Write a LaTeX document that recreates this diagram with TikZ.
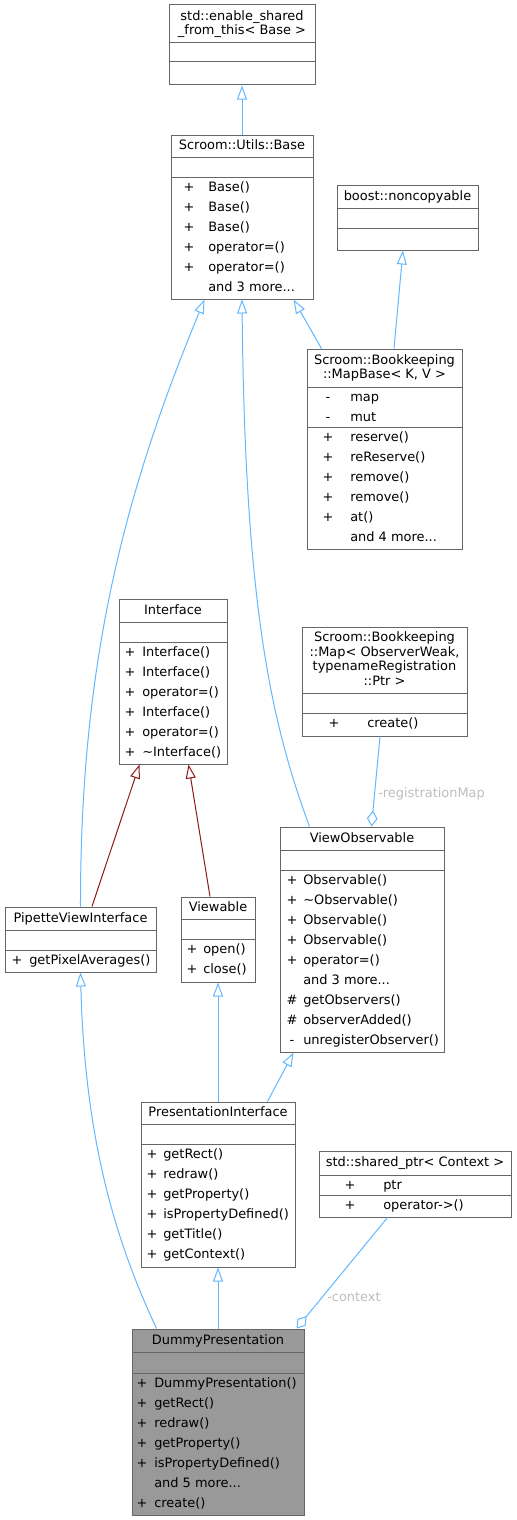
\documentclass[tikz,border=0pt]{standalone}
\usepackage{fontspec}
\setmainfont{DejaVu Sans}
\usetikzlibrary{arrows.meta, fit}
\definecolor{cEdge}{RGB}{99,184,255}
\definecolor{cPriv}{RGB}{139,26,26}
\definecolor{cBorder}{RGB}{102,102,102}
\definecolor{cLabel}{RGB}{190,190,190}
\definecolor{cCurrent}{RGB}{153,153,153}
\newcommand{\tstrut}{\rule[-2pt]{0pt}{9pt}}
\tikzset{
	cls/.style      ={rectangle, draw=cBorder, line width=0.75pt, inner sep=0pt},
	sepline/.style  ={draw=cBorder, line width=0.75pt},
	ctitle/.style   ={inner sep=0pt, align=center, font=\fontsize{9.7}{11}\selectfont},
	vis/.style      ={inner sep=0pt, anchor=north, align=center, font=\fontsize{9.7}{15}\selectfont},
	mem/.style      ={inner sep=0pt, anchor=north west, align=left, font=\fontsize{9.7}{15}\selectfont},
	% inheritance and usage arrows
	inherit/.style  ={draw=cEdge, line width=0.75pt, -{Triangle[open, length=10.5pt, width=7.5pt]}},
	inhpriv/.style  ={draw=cPriv, line width=0.75pt, -{Triangle[open, length=10.5pt, width=7.5pt]}},
	aggr/.style     ={draw=cEdge, line width=0.75pt, -{Diamond[open, length=12pt, width=8pt]}},
	rolelabel/.style={text=cLabel, inner sep=0pt, anchor=west, font=\fontsize{9.7}{11}\selectfont},
}
% class box: fill, name, left, top, right, bottom, first rule, second rule
\newcommand{\umlclass}[8][white]{%
	\node[cls, fill=#1, fit={(#3,#4) (#5,#6)}] (#2) {};
	\draw[sepline] (#3,#7) -- (#5,#7) (#3,#8) -- (#5,#8);
}

\begin{document}
\begin{tikzpicture}[x=0.75pt, y=-0.75pt]
	\path[use as bounding box, fill=white] (0,0) rectangle (517,1520);
	% std::enable_shared_from_this
	\umlclass{enableShared}{169}{5}{315}{85}{43}{62}
	\node[ctitle] (enableShared-title) at (242,24) {\tstrut std::enable\_shared\\\_from\_this< Base >\tstrut};
	% Scroom::Utils::Base
	\umlclass{base}{171}{135}{313}{299}{157}{177}
	\node[ctitle] (base-title) at (242,146) {\tstrut Scroom::Utils::Base};
	\node[vis] (base-vis) at (189,177) {\strut+\\+\\+\\+\\+};
	\node[mem] (base-ops) at (208,177) {\strut Base()\\Base()\\Base()\\operator=()\\operator=()\\and 3 more...};
	% boost::noncopyable
	\umlclass{noncopy}{337}{185}{478}{250}{208}{228}
	\node[ctitle] (noncopy-title) at (407.5,196.5) {\tstrut boost::noncopyable};
	% MapBase
	\umlclass{mapBase}{307}{349}{462}{549}{387}{427}
	\node[ctitle] (mapBase-title) at (384.5,368) {\tstrut Scroom::Bookkeeping\\::MapBase< K, V >\tstrut};
	\node[vis] (mapBase-avis) at (328,387) {\strut-\\-};
	\node[mem] (mapBase-attr) at (350,387) {\strut map\\mut};
	\node[vis] (mapBase-vis) at (328,427) {\strut+\\+\\+\\+\\+};
	\node[mem] (mapBase-ops) at (350,427) {\strut reserve()\\reReserve()\\remove()\\remove()\\at()\\and 4 more...};
	% Map
	\umlclass{obsMap}{302}{627}{467}{736}{693}{713}
	\node[ctitle] (obsMap-title) at (384.5,660) {\tstrut Scroom::Bookkeeping\\::Map< ObserverWeak,\\ typenameRegistration\\::Ptr >\tstrut};
	\node[vis] (obsMap-vis) at (334,713) {\strut+};
	\node[mem] (obsMap-ops) at (367,713) {\strut create()};
	% Interface
	\umlclass{iface}{119}{599}{227}{764}{622}{642}
	\node[ctitle] (iface-title) at (173,610.5) {\tstrut Interface};
	\node[vis] (iface-vis) at (130,642) {\strut+\\+\\+\\+\\+\\+};
	\node[mem] (iface-ops) at (142,642) {\strut Interface()\\Interface()\\operator=()\\Interface()\\operator=()\\\textasciitilde Interface()};
	% ViewObservable
	\umlclass{viewObs}{280}{827}{444}{1052}{850}{870}
	\node[ctitle] (viewObs-title) at (362,838.5) {\tstrut ViewObservable};
	\node[vis] (viewObs-vis) at (292,870) {\strut+\\+\\+\\+\\+\\\strut\\\#\\\#\\-};
	\node[mem] (viewObs-ops) at (303,870) {\strut Observable()\\\textasciitilde Observable()\\Observable()\\Observable()\\operator=()\\and 3 more...\\getObservers()\\observerAdded()\\unregisterObserver()};
	% PipetteViewInterface
	\umlclass{pipette}{5}{907}{156}{972}{930}{950}
	\node[ctitle] (pipette-title) at (80.5,918.5) {\tstrut PipetteViewInterface};
	\node[vis] (pipette-vis) at (17,950) {\strut+};
	\node[mem] (pipette-ops) at (29,950) {\strut getPixelAverages()};
	% Viewable
	\umlclass{viewable}{181}{897}{255}{982}{919}{939}
	\node[ctitle] (viewable-title) at (218,908) {\tstrut Viewable};
	\node[vis] (viewable-vis) at (192,939) {\strut+\\+};
	\node[mem] (viewable-ops) at (203,939) {\strut open()\\close()};
	% PresentationInterface
	\umlclass{presIface}{141}{1102}{295}{1267}{1124}{1144}
	\node[ctitle] (presIface-title) at (218,1113) {\tstrut PresentationInterface};
	\node[vis] (presIface-vis) at (152,1144) {\strut+\\+\\+\\+\\+\\+};
	\node[mem] (presIface-ops) at (163,1144) {\strut getRect()\\redraw()\\getProperty()\\isPropertyDefined()\\getTitle()\\getContext()};
	% std::shared_ptr
	\umlclass{sharedPtr}{319}{1151}{511}{1217}{1175}{1195}
	\node[ctitle] (sharedPtr-title) at (415,1163) {\tstrut std::shared\_ptr< Context >};
	\node[vis] (sharedPtr-avis) at (350,1175) {\strut+};
	\node[mem] (sharedPtr-attr) at (383,1175) {\strut ptr};
	\node[vis] (sharedPtr-vis) at (350,1195) {\strut+};
	\node[mem] (sharedPtr-ops) at (383,1195) {\strut operator->()};
	% DummyPresentation
	\umlclass[cCurrent]{dummy}{132}{1329}{304}{1515}{1352}{1373}
	\node[ctitle] (dummy-title) at (218,1340.5) {\tstrut DummyPresentation};
	\node[vis] (dummy-vis) at (142,1373) {\strut+\\+\\+\\+\\+\\\strut\\+};
	\node[mem] (dummy-ops) at (154,1373) {\strut DummyPresentation()\\getRect()\\redraw()\\getProperty()\\isPropertyDefined()\\and 5 more...\\create()};
	% inheritance
	\draw[inherit] (base.north) -- (enableShared.south);
	\draw[inherit] ([xshift=7.1pt]mapBase.north) -- ([xshift=-3.4pt]noncopy.south);
	\draw[inherit] ([xshift=11.25pt]mapBase.north west) -- ([xshift=-15pt]base.south east);
	\draw[inherit] ([xshift=22.5pt]viewObs.north west) .. controls (270,720) and (245,600) .. (base.south);
	\draw[inherit] (pipette.north) .. controls (80,650) and (130,480) .. ([xshift=25.5pt]base.south west);
	\draw[inhpriv] ([xshift=8.6pt]pipette.north) -- ([xshift=15.75pt]iface.south west);
	\draw[inhpriv] ([xshift=-6pt]viewable.north) -- ([xshift=-29.25pt]iface.south east);
	\draw[inherit] (presIface.north) -- (viewable.south);
	\draw[inherit] ([xshift=-21pt]presIface.north east) -- ([xshift=10.5pt]viewObs.south west);
	\draw[inherit] (dummy.north) -- (presIface.south);
	\draw[inherit] ([xshift=18.75pt]dummy.north west) .. controls (120,1250) and (85,1150) .. (pipette.south);
	% members by value
	\draw[aggr] ([xshift=-3.4pt]obsMap.south) -- ([xshift=69pt]viewObs.north west);
	\node[rolelabel] (regLabel) at (378,794) {-registrationMap};
	\draw[aggr] ([xshift=51.75pt]sharedPtr.south west) -- ([xshift=-6pt]dummy.north east);
	\node[rolelabel] (ctxLabel) at (327,1297) {-context};
\end{tikzpicture}
\end{document}
